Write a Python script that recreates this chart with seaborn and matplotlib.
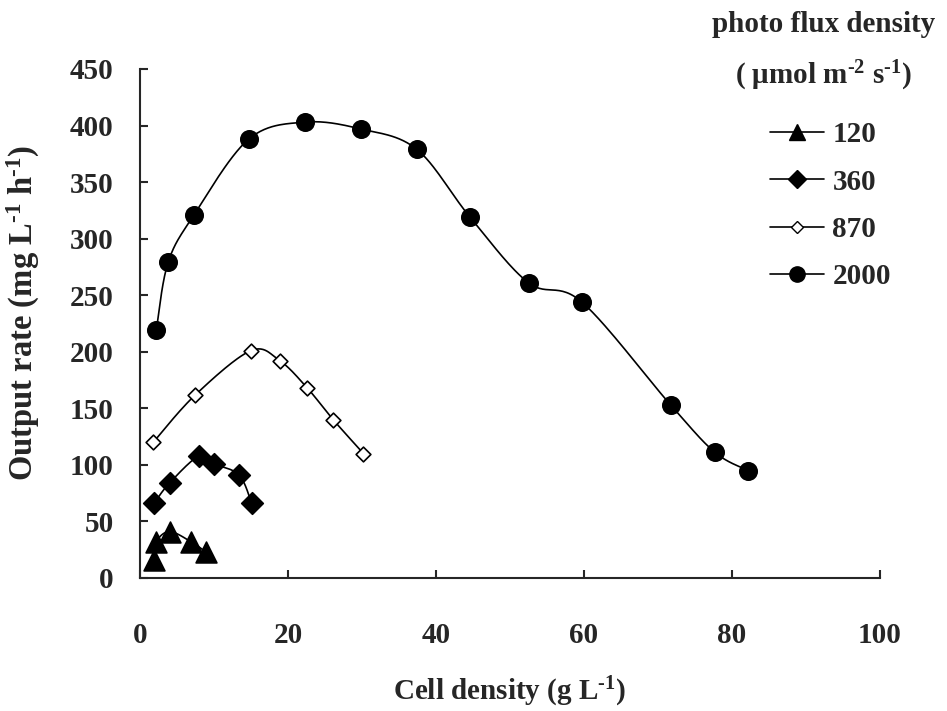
import numpy as np
import pandas as pd
import matplotlib
matplotlib.use("Agg")
import matplotlib.pyplot as plt
from matplotlib.lines import Line2D
import seaborn as sns

# Output rate vs. cell density at four photon flux densities
flux_labels = ["120", "360", "870", "2000"]

density_120 = [1.9, 2.2, 4.0, 6.9, 8.9]
rate_120 = [16, 32, 41, 32, 23]

density_360 = [1.9, 4.0, 8.0, 10.0, 13.4, 15.1]
rate_360 = [66, 84, 108, 101, 91, 66]

density_870 = [1.8, 7.5, 15.0, 18.9, 22.6, 26.1, 30.2]
rate_870 = [120, 162, 201, 192, 168, 140, 110]

density_2000 = [2.2, 3.8, 7.3, 14.7, 22.3, 29.8, 37.4, 44.6, 52.5, 59.7, 71.7, 77.7, 82.2]
rate_2000 = [219, 279, 321, 388, 403, 397, 379, 319, 261, 244, 153, 111, 95]

x_ticks = [0, 20, 40, 60, 80, 100]
y_ticks = list(range(0, 451, 50))

sns.set_style("ticks")
plt.rcParams["font.family"] = ["Liberation Serif", "DejaVu Serif"]
plt.rcParams["font.weight"] = "bold"
plt.rcParams["mathtext.fontset"] = "custom"
plt.rcParams["mathtext.rm"] = "Liberation Serif:bold"
plt.rcParams["mathtext.it"] = "Liberation Serif:bold"
plt.rcParams["mathtext.bf"] = "Liberation Serif:bold"

FS = 21
HY = "\u2010"  # short hyphen for exponents

fig = plt.figure(figsize=(9.47, 7.11), dpi=100)
ax = fig.add_axes([0.1478, 0.1871, 0.7815, 0.7159])

X_MAX, Y_MAX = 100.0, 450.0


def smooth_curve(xs, ys, n=30):
    """Excel-style smoothed line: cubic Bezier segments with Catmull-Rom tangents."""
    p = np.column_stack([np.asarray(xs, float) / X_MAX, np.asarray(ys, float) / Y_MAX])
    pts = np.vstack([p[0], p, p[-1]])
    out = []
    t = np.linspace(0, 1, n)[:, None]
    for i in range(1, len(pts) - 2):
        p0, p1, p2, p3 = pts[i - 1], pts[i], pts[i + 1], pts[i + 2]
        c1 = p1 + (p2 - p0) / 6.0
        c2 = p2 - (p3 - p1) / 6.0
        seg = ((1 - t) ** 3) * p1 + 3 * ((1 - t) ** 2) * t * c1 + 3 * (1 - t) * t ** 2 * c2 + t ** 3 * p2
        out.append(seg if i == 1 else seg[1:])
    c = np.vstack(out)
    return pd.DataFrame({"x": c[:, 0] * X_MAX, "y": c[:, 1] * Y_MAX})


series = [
    (density_120, rate_120, "^", 15, "black"),
    (density_360, rate_360, "D", 11, "black"),
    (density_870, rate_870, "D", 7.5, "white"),
    (density_2000, rate_2000, "o", 12.5, "black"),
]

for xs, ys, mk, ms, fc in series:
    curve = smooth_curve(xs, ys)
    sns.lineplot(data=curve, x="x", y="y", sort=False, estimator=None,
                 color="black", linewidth=1.2, ax=ax, zorder=2)
    pts = pd.DataFrame({"x": xs, "y": ys})
    sns.scatterplot(data=pts, x="x", y="y", marker=mk, s=ms ** 2, color=fc,
                    edgecolor="black", linewidth=1.2, ax=ax, zorder=3)

ax.set_xlim(0, X_MAX)
ax.set_ylim(0, Y_MAX)
ax.set_xticks(x_ticks)
ax.set_yticks(y_ticks)
ax.tick_params(direction="in", length=6, width=1.5, labelsize=FS)
ax.tick_params(axis="x", pad=32)
ax.tick_params(axis="y", pad=19)
for lab in ax.get_xticklabels() + ax.get_yticklabels():
    lab.set_fontweight("bold")
for s in ["top", "right"]:
    ax.spines[s].set_visible(False)
for s in ["left", "bottom"]:
    ax.spines[s].set_linewidth(1.5)

ax.set_xlabel(f"Cell density (g L$^{{{HY}1}}$)", fontsize=FS, fontweight="bold", labelpad=18)
ax.set_ylabel(f"Output rate (mg L$^{{{HY}1}}$ h$^{{{HY}1}}$)", fontsize=23.5,
              fontweight="bold")
ax.yaxis.set_label_coords(-0.132, 0.52)

handles = [
    Line2D([], [], color="black", lw=1.2, marker="^", markersize=12, markerfacecolor="black"),
    Line2D([], [], color="black", lw=1.2, marker="D", markersize=9, markerfacecolor="black"),
    Line2D([], [], color="black", lw=1.2, marker="D", markersize=6.5, markerfacecolor="white"),
    Line2D([], [], color="black", lw=1.2, marker="o", markersize=11, markerfacecolor="black"),
]
fig.text(0.870, 0.965, "photo flux density", ha="center", va="center", fontsize=FS, fontweight="bold")
fig.text(0.870, 0.893, f"( μmol m$^{{{HY}2}}$ s$^{{{HY}1}}$)", ha="center", va="center",
         fontsize=FS, fontweight="bold")
leg = fig.legend(handles, flux_labels, loc="upper left", bbox_to_anchor=(0.8005, 0.846),
                 frameon=False, prop={"size": FS, "weight": "bold"}, handlelength=1.85,
                 handletextpad=0.3, labelspacing=0.70, borderaxespad=0)

fig.savefig("out.png", dpi=100)
